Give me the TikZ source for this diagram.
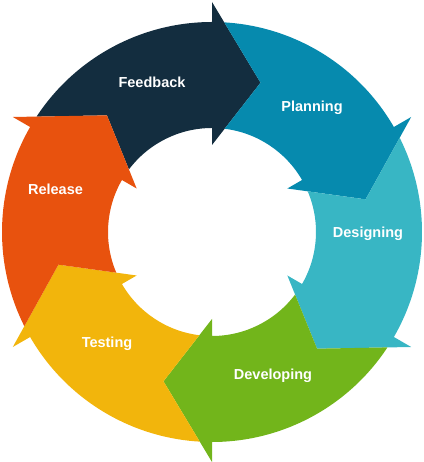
\documentclass[tikz,border=0pt]{standalone}
\usepackage{fontspec}
\setmainfont{Liberation Sans}
\definecolor{cfeedback}{HTML}{132D3F}
\definecolor{cplanning}{HTML}{068AAE}
\definecolor{cdesigning}{HTML}{38B6C4}
\definecolor{cdeveloping}{HTML}{72B51B}
\definecolor{ctesting}{HTML}{F2B50C}
\definecolor{crelease}{HTML}{E8520E}

\begin{document}
\begin{tikzpicture}[line join=miter,x=1pt,y=1pt,
  lbl/.style={text=white,font=\bfseries\fontsize{14.5}{17}\selectfont,anchor=base}]
\useasboundingbox (-212,-230) rectangle (211,232);
% ring pieces: body with notched tail, head at angle \b
\foreach \b/\c in {90/cfeedback,30/cplanning,-30/cdesigning,-90/cdeveloping,-150/ctesting,150/crelease}
  \fill[\c] (\b:210) arc[start angle=\b,end angle={\b+56.66},radius=210]
    -- ({\b+42}:157) -- ({\b+53.02}:104)
    arc[start angle={\b+53.02},end angle=\b,radius=104]
    -- (\b:87) -- ({\b-18}:157) -- (\b:230) -- cycle;
\node[lbl] (feedback) at (-60,144) {Feedback};
\node[lbl] (planning) at (100,120) {Planning};
\node[lbl] (designing) at (156,-6) {Designing};
\node[lbl] (developing) at (61,-147) {Developing};
\node[lbl] (testing) at (-105,-115) {Testing};
\node[lbl] (release) at (-156.5,37) {Release};
\end{tikzpicture}
\end{document}
